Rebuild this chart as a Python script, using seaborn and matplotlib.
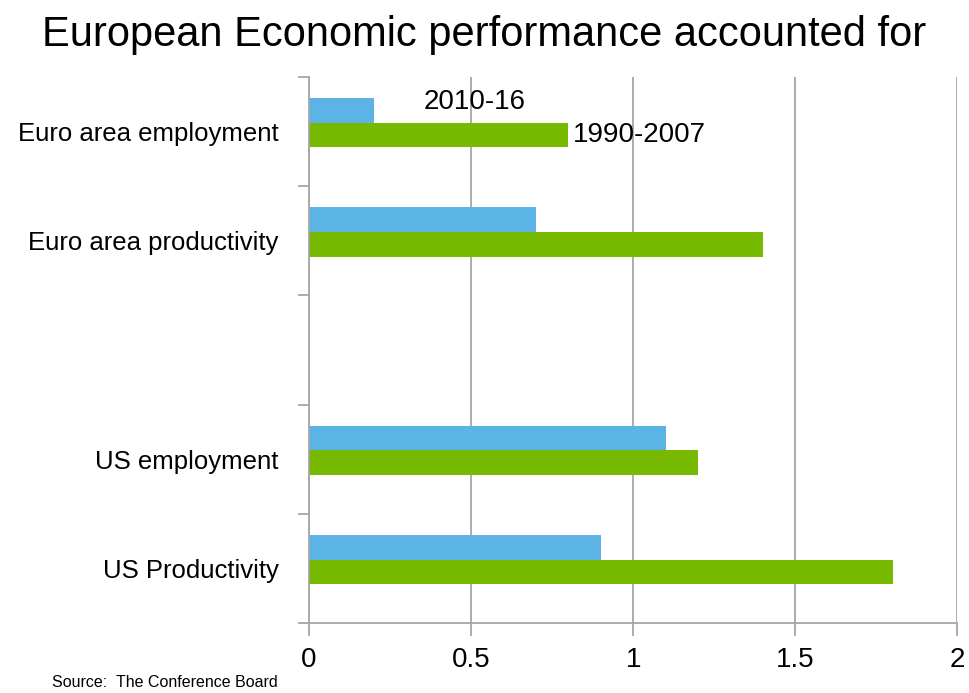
import matplotlib
matplotlib.use("Agg")
import matplotlib.pyplot as plt
import seaborn as sns
import pandas as pd
import numpy as np

categories = ["Euro area employment", "Euro area productivity", "US employment", "US Productivity"]
order = ["Euro area employment", "Euro area productivity", " ", "US employment", "US Productivity"]
period_recent = "2010-16"
period_early = "1990-2007"
values_recent = [0.2, 0.7, 1.1, 0.9]
values_early = [0.8, 1.4, 1.2, 1.8]
x_ticks = [0, 0.5, 1, 1.5, 2]
x_tick_labels = ["0", "0.5", "1", "1.5", "2"]
title = "European Economic performance accounted for"
source = "Source:  The Conference Board"

df = pd.DataFrame({
    "category": categories * 2,
    "period": [period_recent] * 4 + [period_early] * 4,
    "value": values_recent + values_early,
})

sns.set_theme(style="white")
plt.rcParams["font.family"] = ["Liberation Sans", "DejaVu Sans"]

fig = plt.figure(figsize=(9.69, 6.93), dpi=100)
ax = fig.add_axes([0.319, 0.101, 0.669, 0.788])

palette = {period_recent: "#5BB4E5", period_early: "#76B900"}
sns.barplot(data=df, y="category", x="value", hue="period", order=order,
            hue_order=[period_recent, period_early], palette=palette,
            orient="h", width=0.45, gap=0, saturation=1, ax=ax, legend=False,
            edgecolor="none", linewidth=0)

# category bands sit slightly lower than the bar groups (as in the source chart)
shift = 0.08
n = len(order)
ax.set_ylim(n - 0.5 + shift, -0.5 + shift)
ax.set_yticks(np.arange(n) + shift)
ax.set_yticklabels(order)
ax.set_yticks(np.arange(n + 1) - 0.5 + shift, minor=True)

ax.set_xlim(0, 2)
ax.set_xticks(x_ticks)
ax.set_xticklabels(x_tick_labels)
ax.set_xlabel("")
ax.set_ylabel("")
ax.grid(axis="x", color="#A6A6A6", linewidth=1.3)
ax.grid(axis="y", visible=False)
ax.set_axisbelow(True)
for s in ["top", "right"]:
    ax.spines[s].set_visible(False)
for s in ["left", "bottom"]:
    ax.spines[s].set_color("#A6A6A6")
    ax.spines[s].set_linewidth(1.3)

ax.tick_params(axis="x", which="major", length=9, width=1.3, color="#A6A6A6",
               pad=8, labelsize=20, labelcolor="black", bottom=True)
ax.tick_params(axis="y", which="major", length=0, pad=22, labelsize=18.5, labelcolor="black")
ax.tick_params(axis="y", which="minor", length=8, width=1.3, color="#A6A6A6", left=True)

# series name labels
ax.text(0.51, -0.19, period_recent, fontsize=20, ha="center", va="center", color="black")
ax.text(0.815, 0.115, period_early, fontsize=20, ha="left", va="center", color="black")

fig.text(0.5, 0.95, title, fontsize=30, ha="center", va="center", color="black")
fig.text(0.054, 0.004, source, fontsize=11.5, ha="left", va="bottom", color="black")

fig.savefig("out.png", dpi=100, facecolor="white")
